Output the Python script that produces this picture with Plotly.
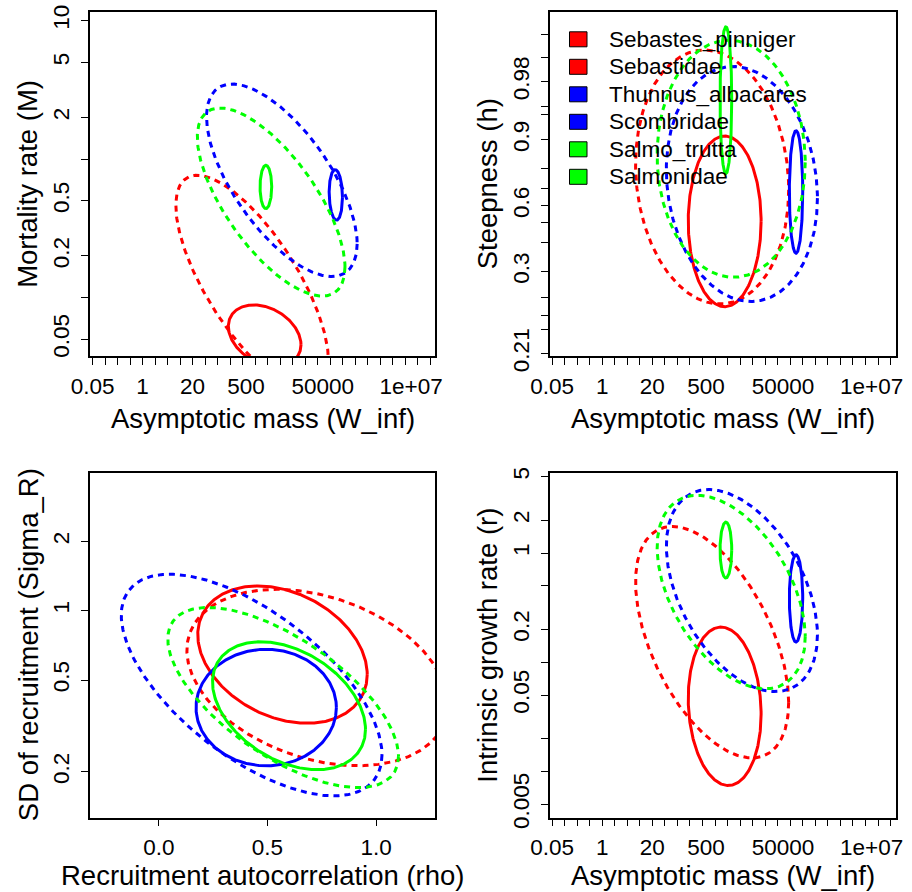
import numpy as np
import plotly.graph_objects as go

# ---------------- data ----------------
series = ["Sebastes_pinniger", "Sebastidae", "Thunnus_albacares",
          "Scombridae", "Salmo_trutta", "Salmonidae"]
series_color = ["#FF0000", "#FF0000", "#0000FF", "#0000FF", "#00FF00", "#00FF00"]
series_dashed = [False, True, False, True, False, True]

# asymptotic mass W_inf: centre and half-width (natural-log units)
winf_center = [1525, 720, 109000, 4270, 1640, 2250]
winf_half_ln = [2.18, 4.58, 0.40, 4.52, 0.35, 4.43]

# panel 1: mortality rate M
m_center = [0.0532, 0.127, 0.552, 0.704, 0.63, 0.49]
m_half_ln = [0.511, 1.796, 0.42, 1.60, 0.36, 1.564]
m_corr = [-0.30, -0.72, -0.10, -0.66, 0.0, -0.69]

# panel 2: steepness h (half-width in logit((h-0.2)/0.8) units)
h_center = [0.509, 0.76, 0.68, 0.724, 0.966, 0.84]
h_half_logit = [2.52, 3.75, 1.81, 3.47, 2.17, 3.50]
h_corr = [0.0, -0.10, 0.0, -0.12, 0.0, -0.03]

# panel 3: recruitment autocorrelation rho vs SD of recruitment sigma_R
rho_center = [0.569, 0.729, 0.494, 0.427, 0.599, 0.572]
rho_half = [0.39, 0.60, 0.323, 0.60, 0.352, 0.531]
sigr_center = [0.645, 0.513, 0.380, 0.476, 0.387, 0.42]
sigr_half_ln = [0.686, 0.881, 0.582, 1.107, 0.639, 0.90]
sr_corr = [-0.29, -0.31, 0.0, -0.63, -0.37, -0.65]

# panel 4: intrinsic growth rate r
r_center = [0.0395, 0.1526, 0.384, 0.453, 1.065, 0.439]
r_half_ln = [1.67, 2.44, 0.92, 2.13, 0.59, 2.04]
r_corr = [-0.10, -0.52, 0.0, -0.44, 0.0, -0.46]

# tick values / labels
w_tick_vals = [0.05, 1, 20, 500, 50000, 1e7]
w_tick_text = ["0.05", "1", "20", "500", "50000", "1e+07"]
m_tick_vals = [0.05, 0.1, 0.2, 0.5, 1, 2, 5, 10]
m_tick_text = ["0.05", "", "0.2", "0.5", "", "2", "5", "10"]
h_tick_vals = [0.21, 0.22, 0.23, 0.25, 0.3, 0.4, 0.5, 0.6, 0.7, 0.8, 0.9,
               0.95, 0.96, 0.98, 0.99, 0.995]
h_tick_text = ["0.21", "", "", "", "0.3", "", "", "0.6", "", "", "0.9",
               "", "", "0.98", "", ""]
rho_tick_vals = [0.0, 0.5, 1.0]
rho_tick_text = ["0.0", "0.5", "1.0"]
sigr_tick_vals = [0.2, 0.5, 1, 2]
sigr_tick_text = ["0.2", "0.5", "1", "2"]
r_tick_vals = [0.005, 0.01, 0.02, 0.05, 0.1, 0.2, 0.5, 1, 2, 5]
r_tick_text = ["0.005", "", "", "0.05", "", "0.2", "", "1", "2", "5"]

# ---------------- helpers ----------------
W, H = 912, 892
FONT = "Liberation Sans, Arial, sans-serif"
t = np.linspace(0, 2 * np.pi, 361)


def logit_h(h):
    p = (np.asarray(h, dtype=float) - 0.2) / 0.8
    return np.log(p / (1 - p))


def ellipse(cx, rx, cy, ry, rho):
    x = cx + rx * np.cos(t)
    y = cy + ry * np.cos(t + np.arccos(rho))
    return x, y


def px_x(p):
    return p / W


def px_y(p):
    return 1 - p / H


fig = go.Figure()

for i in range(len(series)):
    line = dict(color=series_color[i], width=3,
                dash="6px,5px" if series_dashed[i] else "solid")
    lx = np.log(winf_center[i])
    # panel 1
    x, y = ellipse(lx, winf_half_ln[i], np.log(m_center[i]), m_half_ln[i], m_corr[i])
    fig.add_trace(go.Scatter(x=np.exp(x), y=np.exp(y), mode="lines", line=line,
                             xaxis="x", yaxis="y", showlegend=False, hoverinfo="skip"))
    # panel 2
    x, y = ellipse(lx, winf_half_ln[i], float(logit_h(h_center[i])), h_half_logit[i], h_corr[i])
    fig.add_trace(go.Scatter(x=np.exp(x), y=y, mode="lines", line=line,
                             xaxis="x2", yaxis="y2", showlegend=False, hoverinfo="skip"))
    # panel 3
    x, y = ellipse(rho_center[i], rho_half[i], np.log(sigr_center[i]), sigr_half_ln[i], sr_corr[i])
    fig.add_trace(go.Scatter(x=x, y=np.exp(y), mode="lines", line=line,
                             xaxis="x3", yaxis="y3", showlegend=False, hoverinfo="skip"))
    # panel 4
    x, y = ellipse(lx, winf_half_ln[i], np.log(r_center[i]), r_half_ln[i], r_corr[i])
    fig.add_trace(go.Scatter(x=np.exp(x), y=np.exp(y), mode="lines", line=line,
                             xaxis="x4", yaxis="y4", showlegend=False, hoverinfo="skip"))

# panel boxes (pixels)
left_box = (90, 435)
right_box = (549.5, 895.5)
top_box = (11.7, 356)
bot_box = (472.7, 817.7)

tickfont = dict(family=FONT, size=22.5, color="black")
LN10 = np.log(10)
w_range = [-3.15 / LN10, 17.55 / LN10]
w_minor = list(np.exp(np.log(0.05) + 0.75 * np.arange(28)))
Y_STANDOFF = 3


def base_axis(**kw):
    d = dict(showline=True, mirror=True, linecolor="black", linewidth=1.5,
             showgrid=False, zeroline=False, ticks="outside", ticklen=7,
             tickwidth=1.3, tickcolor="black", tickfont=tickfont, tickmode="array",
             automargin=False)
    d.update(kw)
    return d


def w_axis(domain, anchor):
    return base_axis(type="log", range=w_range, domain=domain, anchor=anchor,
                     tickvals=w_tick_vals, ticktext=w_tick_text, ticklen=0,
                     ticklabelstandoff=9,
                     minor=dict(tickmode="array", tickvals=w_minor, ticks="outside",
                                ticklen=7, tickwidth=1.3, tickcolor="black"))


def dom_x(b):
    return [px_x(b[0]), px_x(b[1])]


def dom_y(b):
    return [px_y(b[1]), px_y(b[0])]


layout = dict(
    width=W, height=H, autosize=False,
    margin=dict(l=0, r=0, t=0, b=0, pad=0),
    plot_bgcolor="white", paper_bgcolor="white",
    font=dict(family=FONT, color="black"),
    showlegend=False,
    xaxis=w_axis(dom_x(left_box), "y"),
    yaxis=base_axis(type="log", domain=dom_y(top_box), anchor="x",
                    range=[-3.273 / LN10, 2.452 / LN10],
                    tickvals=m_tick_vals, ticktext=m_tick_text, tickangle=-90,
                    ticklabelstandoff=Y_STANDOFF),
    xaxis2=w_axis(dom_x(right_box), "y2"),
    yaxis2=base_axis(domain=dom_y(top_box), anchor="x2", range=[-4.44, 5.73],
                     tickvals=list(logit_h(h_tick_vals)), ticktext=h_tick_text,
                     tickangle=-90, ticklabelstandoff=Y_STANDOFF),
    xaxis3=base_axis(domain=dom_x(left_box), anchor="y3", range=[-0.317, 1.271],
                     tickvals=rho_tick_vals, ticktext=rho_tick_text,
                     ticklabelstandoff=2),
    yaxis3=base_axis(type="log", domain=dom_y(bot_box), anchor="x3",
                     range=[-2.068 / LN10, 1.379 / LN10],
                     tickvals=sigr_tick_vals, ticktext=sigr_tick_text, tickangle=-90,
                     ticklabelstandoff=Y_STANDOFF),
    xaxis4=w_axis(dom_x(right_box), "y4"),
    yaxis4=base_axis(type="log", domain=dom_y(bot_box), anchor="x4",
                     range=[-5.581 / LN10, 1.694 / LN10],
                     tickvals=r_tick_vals, ticktext=r_tick_text, tickangle=-90,
                     ticklabelstandoff=Y_STANDOFF),
)
fig.update_layout(**layout)

# axis titles
titlefont = dict(family=FONT, size=27.5, color="black")
ann = []


def xtitle(text, box_x, y_center):
    ann.append(dict(text=text, x=px_x((box_x[0] + box_x[1]) / 2), y=px_y(y_center),
                    xref="paper", yref="paper", showarrow=False, font=titlefont,
                    xanchor="center", yanchor="middle"))


def ytitle(text, box_x, box_y):
    ann.append(dict(text=text, x=px_x(box_x[0] - 62), y=px_y((box_y[0] + box_y[1]) / 2),
                    xref="paper", yref="paper", showarrow=False, font=titlefont,
                    textangle=-90, xanchor="center", yanchor="middle"))


xtitle("Asymptotic mass (W_inf)", left_box, 418)
ytitle("Mortality rate (M)", left_box, top_box)
xtitle("Asymptotic mass (W_inf)", right_box, 418)
ytitle("Steepness (h)", right_box, top_box)
xtitle("Recruitment autocorrelation (rho)", left_box, 875)
ytitle("SD of recruitment (Sigma_R)", left_box, bot_box)
xtitle("Asymptotic mass (W_inf)", right_box, 875)
ytitle("Intrinsic growth rate (r)", right_box, bot_box)

# legend (drawn like R's legend with filled boxes)
shapes = []
leg_y0, leg_dy = 39.3, 27.5
for i, name in enumerate(series):
    cy = leg_y0 + i * leg_dy
    shapes.append(dict(type="rect", xref="paper", yref="paper",
                       x0=px_x(569.5), x1=px_x(587), y0=px_y(cy + 7.5), y1=px_y(cy - 7.5),
                       fillcolor=series_color[i], line=dict(color="black", width=1)))
    ann.append(dict(text=name, x=px_x(607), y=px_y(cy), xref="paper", yref="paper",
                    showarrow=False, xanchor="left", yanchor="middle",
                    font=dict(family=FONT, size=22.5, color="black")))

fig.update_layout(annotations=ann, shapes=shapes)
fig.write_html("out.html", config={"displayModeBar": False},
               post_script="document.body.style.margin='0px';document.body.style.overflow='hidden';")
